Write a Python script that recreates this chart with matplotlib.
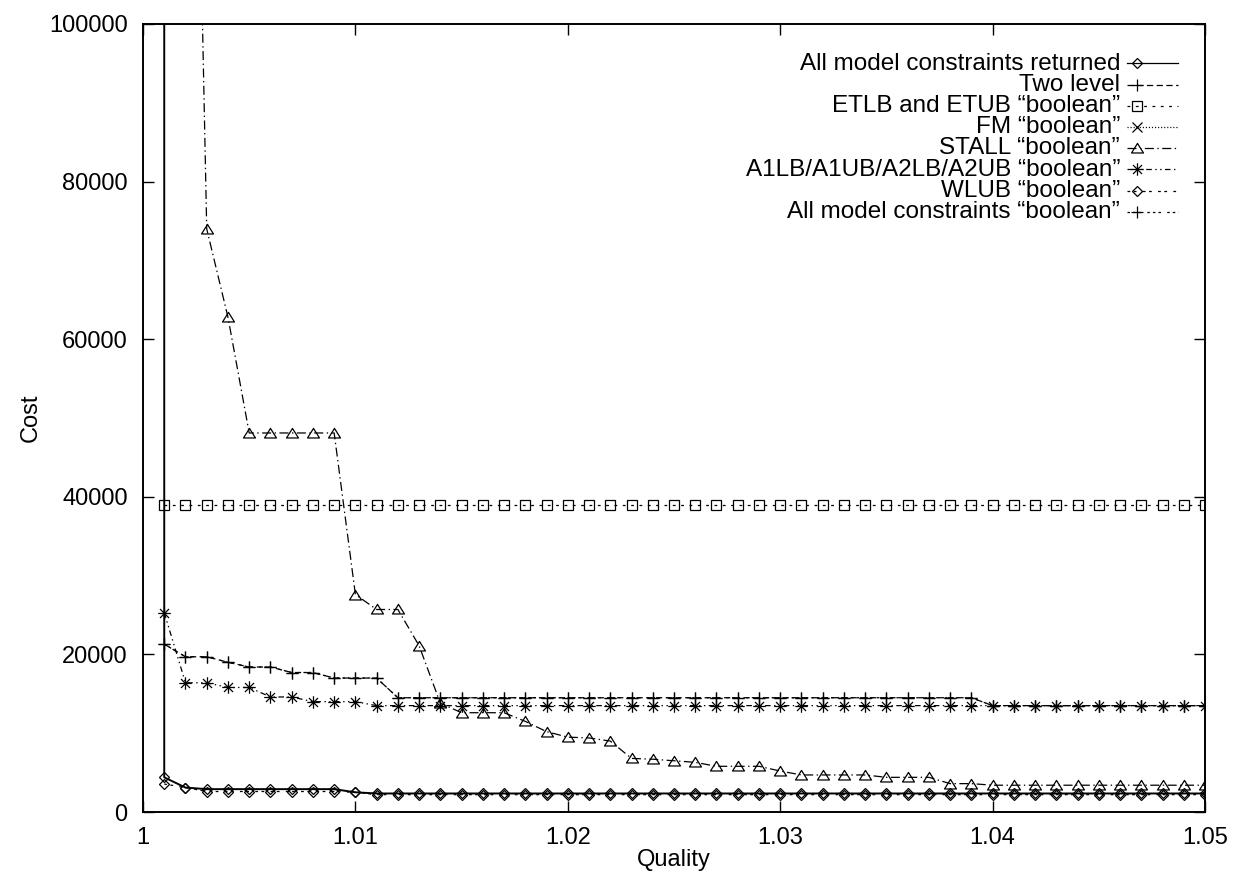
import matplotlib
matplotlib.use("Agg")
import matplotlib.pyplot as plt
from matplotlib.path import Path
from matplotlib.lines import Line2D

plt.rcParams['font.family'] = ['Liberation Sans', 'DejaVu Sans']
plt.rcParams['lines.scale_dashes'] = False

# ---------------- data ----------------
quality = [1.001, 1.002, 1.003, 1.004, 1.005, 1.006, 1.007, 1.008, 1.009, 1.010,
           1.011, 1.012, 1.013, 1.014, 1.015, 1.016, 1.017, 1.018, 1.019, 1.020,
           1.021, 1.022, 1.023, 1.024, 1.025, 1.026, 1.027, 1.028, 1.029, 1.030,
           1.031, 1.032, 1.033, 1.034, 1.035, 1.036, 1.037, 1.038, 1.039, 1.040,
           1.041, 1.042, 1.043, 1.044, 1.045, 1.046, 1.047, 1.048, 1.049, 1.050]

# first point of this series is far off the scale (vertical line at 1.001)
returned_quality = [1.001] + quality
returned_cost = [400000,
                 4400, 3100, 2900, 2900, 2900, 2900, 2900, 2900, 2900, 2500,
                 2350, 2350, 2350, 2350, 2350, 2350, 2350, 2350, 2350, 2350,
                 2350, 2350, 2350, 2350, 2350, 2350, 2350, 2350, 2350, 2350,
                 2350, 2350, 2350, 2350, 2350, 2350, 2350, 2350, 2350, 2350,
                 2350, 2350, 2350, 2350, 2350, 2350, 2350, 2350, 2350, 2350]

two_level_cost = [21300, 19700, 19700, 19000, 18400, 18400, 17700, 17700, 17000, 17000,
                  17000, 14500, 14500, 14500, 14500, 14500, 14500, 14500, 14500, 14500,
                  14500, 14500, 14500, 14500, 14500, 14500, 14500, 14500, 14500, 14500,
                  14500, 14500, 14500, 14500, 14500, 14500, 14500, 14500, 14500, 13500,
                  13500, 13500, 13500, 13500, 13500, 13500, 13500, 13500, 13500, 13500]

etlb_cost = [39000, 39000, 39000, 39000, 39000, 39000, 39000, 39000, 39000, 39000,
             39000, 39000, 39000, 39000, 39000, 39000, 39000, 39000, 39000, 39000,
             39000, 39000, 39000, 39000, 39000, 39000, 39000, 39000, 39000, 39000,
             39000, 39000, 39000, 39000, 39000, 39000, 39000, 39000, 39000, 39000,
             39000, 39000, 39000, 39000, 39000, 39000, 39000, 39000, 39000, 39000]

# FM series lies above the plotted range
fm_cost = [180000, 180000, 180000, 180000, 180000, 180000, 180000, 180000, 180000, 180000,
           180000, 180000, 180000, 180000, 180000, 180000, 180000, 180000, 180000, 180000,
           180000, 180000, 180000, 180000, 180000, 180000, 180000, 180000, 180000, 180000,
           180000, 180000, 180000, 180000, 180000, 180000, 180000, 180000, 180000, 180000,
           180000, 180000, 180000, 180000, 180000, 180000, 180000, 180000, 180000, 180000]

stall_cost = [300000, 205000, 74000, 62800, 48100, 48100, 48100, 48100, 48100, 27600,
              25700, 25700, 21100, 13800, 12600, 12600, 12600, 11500, 10200, 9500,
              9400, 9000, 6800, 6700, 6500, 6300, 5800, 5800, 5800, 5200,
              4700, 4700, 4700, 4700, 4400, 4400, 4400, 3600, 3600, 3400,
              3400, 3400, 3400, 3400, 3400, 3400, 3400, 3400, 3400, 3400]

a1lb_cost = [25300, 16400, 16400, 15800, 15800, 14600, 14600, 14000, 14000, 14000,
             13500, 13500, 13500, 13500, 13500, 13500, 13500, 13500, 13500, 13500,
             13500, 13500, 13500, 13500, 13500, 13500, 13500, 13500, 13500, 13500,
             13500, 13500, 13500, 13500, 13500, 13500, 13500, 13500, 13500, 13500,
             13500, 13500, 13500, 13500, 13500, 13500, 13500, 13500, 13500, 13500]

wlub_cost = [3550, 3100, 2600, 2600, 2600, 2600, 2600, 2600, 2600, 2500,
             2200, 2200, 2200, 2200, 2200, 2200, 2200, 2200, 2200, 2200,
             2200, 2200, 2200, 2200, 2200, 2200, 2200, 2200, 2200, 2200,
             2200, 2200, 2200, 2200, 2200, 2200, 2200, 2200, 2200, 2200,
             2200, 2200, 2200, 2200, 2200, 2200, 2200, 2200, 2200, 2200]

boolean_cost = [21300, 19700, 19700, 19000, 18400, 18400, 17700, 17700, 17000, 17000,
                17000, 14500, 14500, 14500, 14500, 14500, 14500, 14500, 14500, 14500,
                14500, 14500, 14500, 14500, 14500, 14500, 14500, 14500, 14500, 14500,
                14500, 14500, 14500, 14500, 14500, 14500, 14500, 14500, 14500, 13500,
                13500, 13500, 13500, 13500, 13500, 13500, 13500, 13500, 13500, 13500]

labels = ["All model constraints returned",
          "Two level",
          "ETLB and ETUB \u201cboolean\u201d",
          "FM \u201cboolean\u201d",
          "STALL \u201cboolean\u201d",
          "A1LB/A1UB/A2LB/A2UB \u201cboolean\u201d",
          "WLUB \u201cboolean\u201d",
          "All model constraints \u201cboolean\u201d"]

x_ticks = [1, 1.01, 1.02, 1.03, 1.04, 1.05]
x_tick_labels = ["1", "1.01", "1.02", "1.03", "1.04", "1.05"]
y_ticks = [0, 20000, 40000, 60000, 80000, 100000]

# ---------------- styles ----------------
tri = Path([(-1, -0.75), (1, -0.75), (0, 0.85), (-1, -0.75)],
           [Path.MOVETO, Path.LINETO, Path.LINETO, Path.CLOSEPOLY])
ast = Path([(-1, 0), (1, 0), (0, -1), (0, 1),
            (-0.72, -0.72), (0.72, 0.72), (-0.72, 0.72), (0.72, -0.72)],
           [Path.MOVETO, Path.LINETO] * 4)

styles = [
    dict(ls='-', marker='D', ms=5.4),
    dict(ls=(0, (4.5, 2.5)), marker='+', ms=8.5),
    dict(ls=(0, (2, 4)), marker='s', ms=6.5),
    dict(ls=(0, (0.8, 1.4)), marker='x', ms=7),
    dict(ls=(0, (6.5, 2.5, 1, 2.5)), marker=tri, ms=8.6),
    dict(ls=(0, (4, 2.5, 1, 2.5, 1, 2.5)), marker=ast, ms=9),
    dict(ls=(0, (2, 2.5, 2, 4.5)), marker='D', ms=5.4),
    dict(ls=(0, (1.8, 2.2, 1.8, 2.2, 1.8, 4.5)), marker='+', ms=8.5),
]

series = [(returned_quality, returned_cost), (quality, two_level_cost),
          (quality, etlb_cost), (quality, fm_cost), (quality, stall_cost),
          (quality, a1lb_cost), (quality, wlub_cost), (quality, boolean_cost)]

# ---------------- figure ----------------
W, H = 1235, 871
fig = plt.figure(figsize=(W / 100, H / 100), dpi=100)
L, R, T, B = 143, 1205, 24, 812
ax = fig.add_axes([L / W, 1 - B / H, (R - L) / W, (B - T) / H])

common = dict(color='black', lw=0.9, mfc='none', mec='black', mew=0.9)
for i, ((xs, ys), st) in enumerate(zip(series, styles)):
    lw = 1.4 if i == 0 else 0.9
    ax.plot(xs, ys, **{**common, 'lw': lw}, **st)

ax.set_xlim(1, 1.05)
ax.set_ylim(0, 100000)
ax.set_xticks(x_ticks)
ax.set_xticklabels(x_tick_labels)
ax.set_yticks(y_ticks)
ax.set_yticklabels([str(v) for v in y_ticks])
ax.tick_params(direction='in', length=8, width=1.0, top=True, right=True,
               labelsize=17, pad=11)
for sp in ax.spines.values():
    sp.set_linewidth(1.4)

ax.set_xlabel("Quality", fontsize=17, labelpad=0)
ax.set_ylabel("Cost", fontsize=17, labelpad=5)

# ---------------- key (gnuplot style: text right, sample to the right) ----------------
def ax_x(px):
    return (px - L) / (R - L)

def ax_y(py):
    return (B - py) / (B - T)

for i, (lab, st) in enumerate(zip(labels, styles)):
    py = 63.5 + 21.2 * i
    ax.text(ax_x(1120), ax_y(py), lab, transform=ax.transAxes,
            ha='right', va='center', fontsize=17.5)
    ax.add_line(Line2D([ax_x(1127), ax_x(1178)], [ax_y(py), ax_y(py)],
                       transform=ax.transAxes, color='black', lw=0.9,
                       ls=st['ls'], clip_on=False))
    ax.add_line(Line2D([ax_x(1137)], [ax_y(py)], transform=ax.transAxes,
                       ls='none', marker=st['marker'], ms=st['ms'],
                       mfc='none', mec='black', mew=0.9, clip_on=False))

fig.savefig("out.png", dpi=100)
